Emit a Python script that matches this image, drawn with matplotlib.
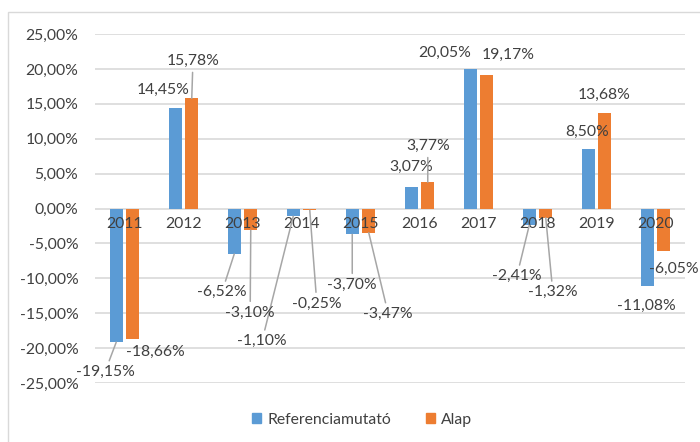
import matplotlib
matplotlib.use("Agg")
import matplotlib.pyplot as plt
from matplotlib.patches import Rectangle, Patch

years = ["2011", "2012", "2013", "2014", "2015", "2016", "2017", "2018", "2019", "2020"]
referencia = [-19.15, 14.45, -6.52, -1.10, -3.70, 3.07, 20.05, -2.41, 8.50, -11.08]
alap = [-18.66, 15.78, -3.10, -0.25, -3.47, 3.77, 19.17, -1.32, 13.68, -6.05]
series_names = ["Referenciamutató", "Alap"]
yticks = [-25, -20, -15, -10, -5, 0, 5, 10, 15, 20, 25]

# label placement (data coords) and whether a leader line is drawn
ref_label_pos = [(-0.33, -23.4), (0.65, 17.0), (1.65, -12.0), (2.33, -19.0), (3.86, -10.9),
                 (4.86, 6.0), (5.42, 22.3), (6.65, -9.7), (7.84, 11.0), (8.84, -14.0)]
ref_leader = [True, False, True, True, True, False, False, True, False, False]
alap_label_pos = [(0.53, -20.6), (1.16, 21.1), (2.13, -14.9), (3.26, -13.6), (4.47, -15.1),
                  (5.14, 8.9), (6.5, 22.0), (7.26, -12.0), (8.13, 16.3), (9.31, -8.7)]
alap_leader = [False, True, True, True, True, True, False, True, False, False]

BLUE = "#5B9BD5"
ORANGE = "#ED7D31"
GRID = "#D9D9D9"
TXT = "#404040"
FS = 11.3
FONT = ["Lato", "DejaVu Sans"]
plt.rcParams["font.family"] = FONT

fig = plt.figure(figsize=(7.0, 4.42), dpi=100)
ax = fig.add_axes([95 / 700, 1 - 383 / 442, 590 / 700, 349 / 442])

w = 0.22
off = 0.14
xs = list(range(len(years)))
ax.bar([x - off for x in xs], referencia, width=w, color=BLUE, zorder=1)
ax.bar([x + off for x in xs], alap, width=w, color=ORANGE, zorder=1)

for t in yticks:
    ax.axhline(t, color=GRID, lw=1.2, zorder=0.5)

ax.set_xlim(-0.5, len(years) - 0.5)
ax.set_ylim(-25, 25)
ax.set_yticks(yticks)
ax.set_yticklabels([f"{t:.2f}%".replace(".", ",") for t in yticks])
ax.tick_params(axis="y", length=0, pad=12, labelsize=FS, labelcolor=TXT)
ax.set_xticks([])
for s in ax.spines.values():
    s.set_visible(False)

for i, y in enumerate(years):
    ax.text(i, -1.2, y, ha="center", va="top", fontsize=FS, color=TXT, zorder=5)

def fmt(v):
    return f"{v:.2f}%".replace(".", ",")

for vals, pos, lead, dx in [(referencia, ref_label_pos, ref_leader, -off),
                            (alap, alap_label_pos, alap_leader, off)]:
    for i, v in enumerate(vals):
        tx, ty = pos[i]
        if lead[i]:
            ax.annotate(fmt(v), xy=(i + dx, v), xytext=(tx, ty), ha="center", va="center",
                        fontsize=FS, color=TXT, zorder=6,
                        arrowprops=dict(arrowstyle="-", color="#A6A6A6", lw=1.1,
                                        shrinkA=1, shrinkB=0))
        else:
            ax.text(tx, ty, fmt(v), ha="center", va="center", fontsize=FS, color=TXT, zorder=6)

fig.patches.append(Rectangle((8 / 700, -0.5), 2, 1.5 - 12 / 442, transform=fig.transFigure,
                             fill=False, edgecolor=GRID, lw=1.0))

handles = [Patch(color=BLUE), Patch(color=ORANGE)]
fig.legend(handles, series_names, loc="center", bbox_to_anchor=(362 / 700, 1 - 420 / 442),
           ncol=2, frameon=False, fontsize=FS, handlelength=0.6, handleheight=0.6,
           handletextpad=0.4, columnspacing=2.2, labelcolor=TXT)

fig.savefig("out.png", dpi=100)
